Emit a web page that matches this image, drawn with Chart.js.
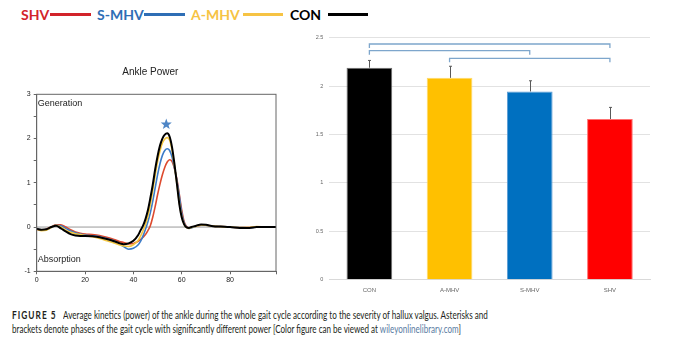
<!DOCTYPE html>
<html>
<head>
<meta charset="utf-8">
<title>Ankle power</title>
<script src="https://cdn.jsdelivr.net/npm/chart.js@4.4.1/dist/chart.umd.min.js"></script>
<style>
  html, body { margin: 0; padding: 0; background: #fff; }
  body { width: 680px; height: 347px; position: relative; overflow: hidden; font-family: Lato, "Open Sans", sans-serif; }
  .lg { position: absolute; top: 6px; font-weight: bold; font-size: 14px; line-height: 18px; white-space: nowrap; }
  .ln { position: absolute; top: 13px; height: 3px; }
  #lineWrap { position: absolute; left: 0; top: 60px; width: 290px; height: 230px; }
  #barWrap { position: absolute; left: 300px; top: 25px; width: 380px; height: 275px; }
  .cap { position: absolute; font-size: 12px; line-height: 14px; color: #231f20; white-space: nowrap; transform-origin: 0 50%; }
  .cap b { letter-spacing: 1.5px; }
  .cap a { color: #5a7ca3; text-decoration: none; }
</style>
</head>
<body>
<span class="lg" style="left:21px;color:#d2232a">SHV</span>
<div class="ln" style="left:50px;width:41px;background:#d2232a"></div>
<span class="lg" style="left:97px;color:#2e6eb5">S-MHV</span>
<div class="ln" style="left:144px;width:41px;background:#2e6eb5"></div>
<span class="lg" style="left:191px;color:#f6c344">A-MHV</span>
<div class="ln" style="left:243px;width:40px;background:#f6c344"></div>
<span class="lg" style="left:290px;color:#000">CON</span>
<div class="ln" style="left:328px;width:40px;background:#000"></div>

<div id="lineWrap"><canvas id="power"></canvas></div>
<div id="barWrap"><canvas id="peaks"></canvas></div>

<span class="cap" id="c0" data-w="44.4" style="left:12px;top:308px"><b>FIGURE 5</b></span>
<span class="cap" id="c1" data-w="425" style="left:63px;top:308px">Average kinetics (power) of the ankle during the whole gait cycle according to the severity of hallux valgus. Asterisks and</span>
<span class="cap" id="c2" data-w="449" style="left:12px;top:322px">brackets denote phases of the gait cycle with significantly different power [Color figure can be viewed at <a>wileyonlinelibrary.com</a>]</span>

<script>
// gait cycle (%) and ankle power (W/kg)
const cycle = [0,2,4,6,8,10,12,14,16,18,20,23,26,29,32,34,36,38,40,42,43,44,45,46,47,48,49,50,51,52,53,54,55,56,57,58,59,60,61,62,63,64,66,68,70,73,76,80,84,88,91,95,99];
const conPower = [-0.04,-0.06,-0.05,0.0,0.03,-0.03,-0.1,-0.16,-0.19,-0.2,-0.2,-0.21,-0.23,-0.27,-0.32,-0.36,-0.39,-0.37,-0.31,-0.18,-0.07,0.03,0.18,0.38,0.65,0.95,1.3,1.6,1.84,2.0,2.09,2.12,2.04,1.8,1.42,0.98,0.52,0.22,0.06,-0.01,-0.02,0.0,0.03,0.06,0.05,0.02,0.01,0.0,-0.02,-0.02,0.0,0.0,0.0];
const amhvPower = [-0.05,-0.08,-0.07,-0.01,0.04,0.0,-0.07,-0.12,-0.15,-0.17,-0.19,-0.22,-0.26,-0.31,-0.36,-0.4,-0.43,-0.44,-0.4,-0.3,-0.2,-0.08,0.06,0.25,0.5,0.82,1.16,1.48,1.72,1.9,1.99,2.02,1.96,1.74,1.38,0.98,0.55,0.24,0.06,-0.01,-0.03,-0.01,0.02,0.05,0.04,0.02,0.01,0.0,-0.01,-0.01,0.01,0.0,0.0];
const smhvPower = [-0.04,-0.06,-0.06,-0.01,0.04,0.03,-0.03,-0.09,-0.13,-0.16,-0.18,-0.2,-0.22,-0.26,-0.31,-0.37,-0.44,-0.5,-0.48,-0.4,-0.32,-0.2,-0.05,0.12,0.32,0.58,0.88,1.18,1.43,1.62,1.73,1.77,1.73,1.58,1.33,1.05,0.7,0.32,0.09,0.0,-0.03,-0.02,0.02,0.05,0.04,0.02,0.01,0.0,-0.01,-0.02,0.0,0.0,0.0];
const shvPower = [-0.05,-0.07,-0.05,0.0,0.05,0.05,0.0,-0.06,-0.11,-0.14,-0.16,-0.17,-0.19,-0.23,-0.28,-0.32,-0.35,-0.38,-0.37,-0.32,-0.28,-0.23,-0.17,-0.08,0.03,0.22,0.46,0.73,0.97,1.18,1.35,1.47,1.52,1.48,1.32,1.08,0.74,0.38,0.12,0.01,-0.02,-0.01,0.02,0.04,0.04,0.02,0.01,0.0,-0.01,-0.01,0.0,0.0,0.0];
const starAt = { x: 53.6, y: 2.32 };

// right panel: peak power per group
const groups = ["CON", "A-MHV", "S-MHV", "SHV"];
const peakPower = [2.19, 2.085, 1.945, 1.66];
const peakErr = [0.075, 0.12, 0.11, 0.12];
// [from group, to group, bracket level]
const brackets = [[0, 3, 2.435], [0, 2, 2.366], [1, 3, 2.287]];

const toPts = ys => cycle.map((x, i) => ({ x: x, y: ys[i] }));

const panelDeco = {
  id: "panelDeco",
  beforeDatasetsDraw(chart) {
    const { ctx, chartArea: a, scales: { y } } = chart;
    ctx.save();
    const y0 = y.getPixelForValue(0);
    ctx.strokeStyle = "#9a9a9a";
    ctx.lineWidth = 1;
    ctx.beginPath();
    ctx.moveTo(a.left, y0);
    ctx.lineTo(a.right, y0);
    ctx.stroke();
    ctx.fillStyle = "#222";
    ctx.font = '9px "Liberation Sans", Arial, sans-serif';
    ctx.textBaseline = "middle";
    ctx.fillText("Generation", a.left + 1, a.top + 9);
    ctx.fillText("Absorption", a.left + 1, a.bottom - 12);
    ctx.font = '10px "Liberation Sans", Arial, sans-serif';
    ctx.textAlign = "center";
    ctx.fillText("Ankle Power", (a.left + a.right) / 2 - 6, a.top - 22);
    ctx.restore();
  },
  afterDatasetsDraw(chart) {
    const { ctx, chartArea: a, scales: { x, y } } = chart;
    ctx.save();
    ctx.strokeStyle = "#666";
    ctx.lineWidth = 1;
    ctx.strokeRect(a.left, a.top, a.width, a.height);
    // star over the push-off peak
    const cx = x.getPixelForValue(starAt.x), cy = y.getPixelForValue(starAt.y);
    ctx.fillStyle = "#4f86c6";
    ctx.beginPath();
    for (let k = 0; k < 10; k++) {
      const r = k % 2 ? 2.4 : 5.8;
      const ang = -Math.PI / 2 + k * Math.PI / 5;
      ctx.lineTo(cx + r * Math.cos(ang), cy + r * Math.sin(ang));
    }
    ctx.closePath();
    ctx.fill();
    ctx.restore();
  }
};

new Chart(document.getElementById("power"), {
  type: "line",
  data: {
    datasets: [
      { label: "CON", data: toPts(conPower), borderColor: "#000", borderWidth: 2 },
      { label: "A-MHV", data: toPts(amhvPower), borderColor: "#f3c640", borderWidth: 1.6 },
      { label: "S-MHV", data: toPts(smhvPower), borderColor: "#3b7cc8", borderWidth: 1.6 },
      { label: "SHV", data: toPts(shvPower), borderColor: "#dd4a2e", borderWidth: 1.6 }
    ]
  },
  options: {
    responsive: true,
    maintainAspectRatio: false,
    animation: false,
    layout: { padding: { top: 34.3, right: 14 } },
    elements: { point: { radius: 0 }, line: { cubicInterpolationMode: "monotone" } },
    plugins: { legend: { display: false }, tooltip: { enabled: false } },
    scales: {
      x: {
        type: "linear", min: 0, max: 99,
        ticks: {
          stepSize: 20, autoSkip: false,
          callback: v => v % 20 === 0 ? v : "",
          font: { size: 7, family: "Liberation Sans" }, color: "#222", padding: 2
        },
        grid: { drawOnChartArea: false, tickLength: 3, color: "#666" },
        border: { color: "#666" },
        afterFit: s => { s.height = 18.7; }
      },
      y: {
        min: -1, max: 3,
        ticks: {
          stepSize: 0.5, autoSkip: false,
          callback: v => Number.isInteger(v) ? v : "",
          font: { size: 7, family: "Liberation Sans" }, color: "#222", padding: 3
        },
        grid: { drawOnChartArea: false, tickLength: 3, color: "#666" },
        border: { color: "#666" },
        afterFit: s => { s.width = 36.7; }
      }
    }
  },
  plugins: [panelDeco]
});

const barMarks = {
  id: "barMarks",
  afterDatasetsDraw(chart) {
    const { ctx, scales: { x, y } } = chart;
    ctx.save();
    ctx.strokeStyle = "#595959";
    ctx.lineWidth = 1;
    peakPower.forEach((v, i) => {
      const px = Math.round(x.getPixelForValue(i)) + 0.5;
      const top = y.getPixelForValue(v + peakErr[i]);
      const bot = y.getPixelForValue(v);
      ctx.beginPath();
      ctx.moveTo(px, bot);
      ctx.lineTo(px, top);
      ctx.moveTo(px - 1.5, top);
      ctx.lineTo(px + 1.5, top);
      ctx.stroke();
    });
    ctx.strokeStyle = "#7ea6cc";
    ctx.lineWidth = 1.3;
    brackets.forEach(([from, to, lv]) => {
      const x1 = x.getPixelForValue(from), x2 = x.getPixelForValue(to);
      const yt = y.getPixelForValue(lv);
      ctx.beginPath();
      ctx.moveTo(x1, yt + 4);
      ctx.lineTo(x1, yt);
      ctx.lineTo(x2, yt);
      ctx.lineTo(x2, yt + 4);
      ctx.stroke();
    });
    ctx.restore();
  }
};

new Chart(document.getElementById("peaks"), {
  type: "bar",
  data: {
    labels: groups,
    datasets: [{
      data: peakPower,
      backgroundColor: ["#000000", "#ffc000", "#0070c0", "#ff0000"],
      borderColor: ["#6e6e6e", "#ffd966", "#5b9bd5", "#ff7070"],
      borderWidth: 1,
      barPercentage: 0.57,
      categoryPercentage: 1
    }]
  },
  options: {
    responsive: true,
    maintainAspectRatio: false,
    animation: false,
    layout: { padding: { top: 12.7, right: 30 } },
    plugins: { legend: { display: false }, tooltip: { enabled: false } },
    scales: {
      x: {
        grid: { display: false, drawTicks: false },
        border: { color: "#d9d9d9" },
        ticks: { font: { size: 6, family: "Liberation Sans" }, color: "#666", padding: 7 },
        afterFit: s => { s.height = 20.3; }
      },
      y: {
        min: 0, max: 2.5,
        ticks: {
          stepSize: 0.5,
          callback: v => String(v),
          font: { size: 5.5, family: "Liberation Sans" }, color: "#666", padding: 6
        },
        grid: { color: "#e2e2e2", drawTicks: false },
        border: { display: false },
        afterFit: s => { s.width = 29.3; }
      }
    }
  },
  plugins: [barMarks]
});

// squeeze caption lines to the widths in the figure
["c0", "c1", "c2"].forEach(id => {
  const el = document.getElementById(id);
  const w = parseFloat(el.dataset.w);
  el.style.transform = "scaleX(" + (w / el.offsetWidth) + ")";
});
</script>
</body>
</html>
